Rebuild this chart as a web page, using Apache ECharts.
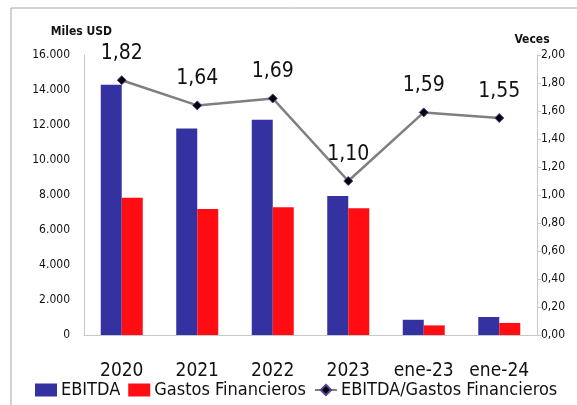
<!DOCTYPE html>
<html>
<head>
<meta charset="utf-8">
<script src="https://cdn.jsdelivr.net/npm/echarts@6/dist/echarts.min.js"></script>
<style>
  html, body { margin: 0; padding: 0; background: #fff; }
  #chart { width: 577px; height: 405px; }
</style>
</head>
<body>
<div id="chart"></div>
<script>
// datos
const categories = ['2020', '2021', '2022', '2023', 'ene-23', 'ene-24']
const ebitda = [14300, 11800, 12300, 7950, 870, 1030]
const gastosFin = [7850, 7200, 7300, 7250, 550, 690]
const ratio = [1.82, 1.64, 1.69, 1.10, 1.59, 1.55]

const font = '"DejaVu Sans Condensed", "DejaVu Sans", sans-serif'
const myChart = echarts.init(document.getElementById('chart'))

myChart.setOption({
  animation: false,
  textStyle: { fontFamily: font },
  graphic: [
    {
      type: 'rect',
      shape: { x: 11, y: 8, width: 600, height: 420 },
      style: { fill: 'none', stroke: '#a6a6a6', lineWidth: 1 }
    }
  ],
  grid: {
    left: 84,
    right: 40,
    top: 55,
    bottom: 70
  },
  legend: {
    bottom: 1,
    left: 30,
    itemWidth: 22,
    itemHeight: 13,
    itemGap: 8,
    textStyle: { fontSize: 18, color: '#111', fontFamily: font, padding: [0, 0, 0, -1] },
    data: [
      { name: 'EBITDA', icon: 'rect' },
      { name: 'Gastos Financieros', icon: 'rect' },
      { name: 'EBITDA/Gastos Financieros' }
    ]
  },
  xAxis: {
    type: 'category',
    data: categories,
    axisLine: { lineStyle: { color: '#c8c8c8' } },
    axisTick: { show: false },
    axisLabel: { interval: 0, fontSize: 19, color: '#111', margin: 27, fontFamily: font }
  },
  yAxis: [
    {
      type: 'value',
      name: 'Miles USD',
      nameLocation: 'end',
      nameGap: 17,
      nameTextStyle: { fontSize: 12, fontWeight: 'bold', color: '#111', align: 'right', padding: [0, -28, 0, 0] },
      min: 0,
      max: 16000,
      interval: 2000,
      axisLine: { show: true, lineStyle: { color: '#c8c8c8' } },
      axisTick: { show: false },
      splitLine: { show: false },
      axisLabel: {
        fontSize: 12,
        color: '#111',
        margin: 14,
        formatter: function (v) {
          return v === 0 ? '0' : v.toLocaleString('de-DE')
        }
      }
    },
    {
      type: 'value',
      name: 'Veces',
      nameLocation: 'end',
      nameGap: 9,
      nameTextStyle: { fontSize: 12, fontWeight: 'bold', color: '#111', padding: [0, 0, 0, -10] },
      min: 0,
      max: 2,
      interval: 0.2,
      axisLine: { show: true, lineStyle: { color: '#c8c8c8' } },
      axisTick: { show: true, length: 4, inside: false, lineStyle: { color: '#c8c8c8' } },
      splitLine: { show: false },
      axisLabel: {
        fontSize: 12,
        color: '#111',
        margin: 4,
        formatter: function (v) {
          return v.toFixed(2).replace('.', ',')
        }
      }
    }
  ],
  series: [
    {
      name: 'EBITDA',
      type: 'bar',
      barWidth: 21,
      barGap: '0%',
      itemStyle: { color: '#3431a0' },
      data: ebitda
    },
    {
      name: 'Gastos Financieros',
      type: 'bar',
      barWidth: 21,
      itemStyle: { color: '#ff0d12' },
      data: gastosFin
    },
    {
      name: 'EBITDA/Gastos Financieros',
      type: 'line',
      yAxisIndex: 1,
      symbol: 'diamond',
      symbolSize: 9,
      lineStyle: { color: '#7f7f7f', width: 2.5 },
      itemStyle: { color: '#000', borderColor: '#5b3f9a', borderWidth: 1 },
      label: {
        show: true,
        position: 'top',
        distance: 11,
        fontSize: 21,
        color: '#111',
        formatter: function (p) {
          return p.value.toFixed(2).replace('.', ',')
        }
      },
      data: ratio
    }
  ]
})
</script>
</body>
</html>
